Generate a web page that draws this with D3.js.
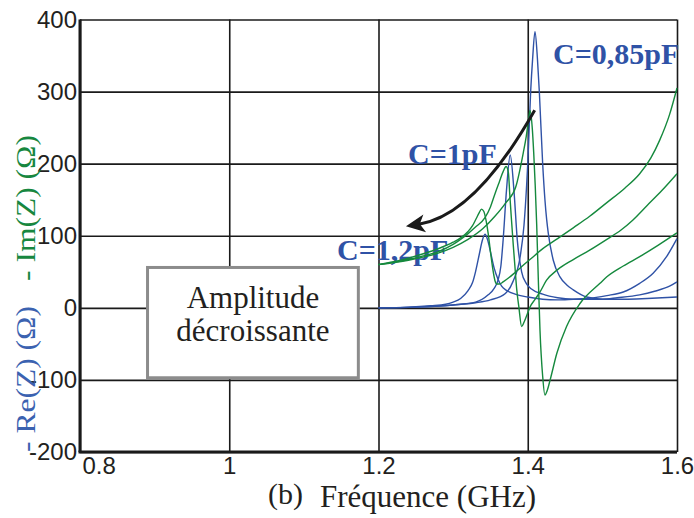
<!DOCTYPE html>
<html><head><meta charset="utf-8">
<script src="https://cdn.jsdelivr.net/npm/d3@7/dist/d3.min.js"></script>
<style>html,body{margin:0;padding:0;background:#fff;}svg{display:block;}</style>
</head><body>
<script>
// ---- data ----
const xTicks = [0.8, 1, 1.2, 1.4, 1.6];
const xTickLabels = ["0.8", "1", "1.2", "1.4", "1.6"];
const yTicks = [-200, -100, 0, 100, 200, 300, 400];
const yTickLabels = ["-200", "-100", "0", "100", "200", "300", "400"];

// -Im(Z), C = 1.2 pF
const gF12 = [1.20,1.22,1.24,1.26,1.28,1.30,1.31,1.32,1.326,1.331,1.335,1.338,1.341,1.344,1.347,1.350,1.353,1.356,1.3583,1.362,1.367,1.375,1.383,1.395,1.4097,1.4164,1.44,1.461,1.483,1.506,1.53,1.55,1.565,1.577,1.59,1.6];
const gV12 = [60,64,69,75,82,91,97,106,114,124,132,137,134,122,103,78,55,38,33,33,36,42,49,60,73,79,96,111,127,146,166,186,208,233,268,305];
// -Im(Z), C = 1 pF
const gF10 = [1.20,1.22,1.24,1.26,1.28,1.30,1.31,1.32,1.33,1.3427,1.35,1.356,1.362,1.367,1.371,1.374,1.376,1.378,1.3806,1.383,1.3851,1.388,1.3918,1.395,1.40,1.403,1.41,1.4164,1.425,1.44,1.461,1.483,1.506,1.525,1.541,1.56,1.58,1.6];
const gV10 = [60,63,67,72,78,88,95,103,112,125,140,158,175,189,196,188,156,125,87,55,27,2,-26,-20,-7,1,12,22,38,53,67,80,95,108,122,142,163,186];
// -Im(Z), C = 0.85 pF
const gF085 = [1.20,1.24,1.28,1.30,1.32,1.34,1.356,1.37,1.384,1.394,1.398,1.401,1.403,1.406,1.408,1.41,1.412,1.414,1.4164,1.42,1.423,1.426,1.43,1.439,1.452,1.47,1.4968,1.506,1.528,1.55,1.575,1.6];
const gV085 = [60,66,76,84,95,110,127,145,168,215,238,260,274,250,215,170,115,45,-31,-95,-121,-115,-100,-63,-26,6,34,43,58,71,87,104];

// Re(Z), C = 1.2 pF
const bF12 = [1.20,1.24,1.27,1.29,1.30,1.31,1.32,1.326,1.33,1.335,1.339,1.3427,1.346,1.35,1.355,1.36,1.365,1.372,1.383,1.40,1.42,1.44,1.461,1.48,1.506,1.528,1.55,1.568,1.586,1.6];
const bV12 = [0,1,3,5,8,13,24,35,50,74,93,102,95,78,55,40,30,24,19,15,12,11,12,13,17,22,34,48,71,96];
// Re(Z), C = 1 pF
const bF10 = [1.20,1.25,1.30,1.33,1.347,1.355,1.36,1.364,1.367,1.3715,1.3765,1.3815,1.386,1.3918,1.398,1.405,1.42,1.44,1.46,1.50,1.52,1.55,1.57,1.59,1.6];
const bV10 = [0,1,4,8,18,27,38,58,94,163,212,163,94,50,34,26,19,14,12,12,14,18,23,30,36];
// Re(Z), C = 0.85 pF
const bF085 = [1.20,1.25,1.30,1.33,1.35,1.37,1.38,1.39,1.395,1.3985,1.40,1.4039,1.4065,1.4097,1.413,1.4155,1.42,1.4231,1.4254,1.4276,1.4342,1.4432,1.452,1.461,1.479,1.50,1.53,1.56,1.6];
const bV085 = [0,1,4,7,11,20,36,72,115,170,200,300,345,383,345,300,200,149,122,103,66,43,32,25,15,12,12,13,15];

const capLabels = ["C=0,85pF", "C=1pF", "C=1,2pF"];
const capLabelF = [1.4338, 1.2395, 1.1444];
const capLabelV = [338, 199, 66];

// ---- drawing ----
const W = 694, H = 518;
const svg = d3.select("body").append("svg").attr("width", W).attr("height", H);
const x = d3.scaleLinear().domain([0.8, 1.6]).range([80, 677]);
const y = d3.scaleLinear().domain([-200, 400]).range([452, 19.5]);

const BLUE = "#2f52a6", GREEN = "#15893d", INK = "#231f20";
const sans = "'Liberation Sans', Arial, sans-serif";
const serif = "'Liberation Serif', 'Times New Roman', serif";

// grid + y tick labels
const yAxis = svg.append("g").attr("transform", `translate(${x(0.8)},0)`)
  .call(d3.axisLeft(y).tickValues(yTicks).tickSize(-(x(1.6) - x(0.8))).tickPadding(3)
    .tickFormat((d, i) => yTickLabels[i]));
yAxis.select(".domain").remove();
yAxis.selectAll("line").attr("stroke", "#1a1a1a").attr("stroke-width", 1.6);
yAxis.selectAll("text").style("font-family", sans).style("font-size", "24px").attr("fill", INK);

const xAxis = svg.append("g").attr("transform", `translate(0,${y(-200)})`)
  .call(d3.axisBottom(x).tickValues(xTicks).tickSize(-(y(-200) - y(400))).tickPadding(5)
    .tickFormat((d, i) => xTickLabels[i]));
xAxis.select(".domain").remove();
xAxis.selectAll("line").attr("stroke", "#1a1a1a").attr("stroke-width", 1.6);
xAxis.selectAll("text").style("font-family", sans).style("font-size", "24px").attr("fill", INK);
xAxis.selectAll(".tick").filter(d => d === 0.8).select("text")
  .attr("text-anchor", "start").attr("x", 2);

// frame
svg.append("line").attr("x1", x(0.8)).attr("x2", x(0.8)).attr("y1", y(400)).attr("y2", y(-200))
  .attr("stroke", "#1a1a1a").attr("stroke-width", 3);
svg.append("line").attr("x1", x(0.8) - 1.5).attr("x2", x(1.6)).attr("y1", y(-200)).attr("y2", y(-200))
  .attr("stroke", "#1a1a1a").attr("stroke-width", 3);

// y axis title (two colours)
svg.append("text").attr("transform", `translate(35,${y(-200)}) rotate(-90)`)
  .style("font-family", serif).style("font-size", "28px").attr("fill", "#3b62b0")
  .attr("textLength", 146).attr("lengthAdjust", "spacingAndGlyphs")
  .text("- Re(Z) (Ω)");
svg.append("text").attr("transform", `translate(35,${y(-200) - 171}) rotate(-90)`)
  .style("font-family", serif).style("font-size", "28px").attr("fill", "#17873f")
  .attr("textLength", 146).attr("lengthAdjust", "spacingAndGlyphs")
  .text("- Im(Z) (Ω)");

// x axis title
svg.append("text").attr("x", 268).attr("y", 504).style("font-family", serif)
  .style("font-size", "30px").attr("fill", INK).text("(b)");
svg.append("text").attr("x", 320).attr("y", 507).style("font-family", serif)
  .style("font-size", "31px").attr("fill", INK).text("Fréquence (GHz)");

// annotation box
const bx0 = x(0.8905), bx1 = x(1.173), by0 = y(56), by1 = y(-97);
svg.append("rect").attr("x", bx0).attr("y", by0).attr("width", bx1 - bx0).attr("height", by1 - by0)
  .attr("fill", "#fff").attr("stroke", "#8c8c8c").attr("stroke-width", 3);
const bt = svg.append("text").style("font-family", serif).style("font-size", "31px").attr("fill", INK)
  .attr("text-anchor", "middle");
bt.append("tspan").attr("x", (bx0 + bx1) / 2).attr("y", 308).text("Amplitude");
bt.append("tspan").attr("x", (bx0 + bx1) / 2).attr("y", 341).text("décroissante");

// capacitance labels
svg.selectAll("text.cap").data(capLabels).join("text").attr("class", "cap")
  .attr("x", (d, i) => x(capLabelF[i])).attr("y", (d, i) => y(capLabelV[i]))
  .style("font-family", serif).style("font-weight", "bold").style("font-size", "30px")
  .attr("fill", BLUE).text(d => d);

// curves
const line = d3.line().x(d => x(d[0])).y(d => y(d[1])).curve(d3.curveMonotoneX);
const series = [
  { f: bF12, v: bV12, c: BLUE }, { f: bF10, v: bV10, c: BLUE }, { f: bF085, v: bV085, c: BLUE },
  { f: gF12, v: gV12, c: GREEN }, { f: gF10, v: gV10, c: GREEN }, { f: gF085, v: gV085, c: GREEN }
];
series.forEach(s => {
  svg.append("path").datum(s.f.map((f, i) => [f, s.v[i]]))
    .attr("d", line).attr("fill", "none").attr("stroke", s.c).attr("stroke-width", 1.4);
});

// arrow
const a0 = [x(1.4093), y(274)], ac = [x(1.3293), y(128)], a1 = [x(1.254), y(116)];
svg.append("path").attr("d", `M${a0[0]},${a0[1]} Q${ac[0]},${ac[1]} ${a1[0]},${a1[1]}`)
  .attr("fill", "none").attr("stroke", "#1a1a1a").attr("stroke-width", 3);
const ang = Math.atan2(a1[1] - ac[1], a1[0] - ac[0]);
const tip = [a1[0] + 13 * Math.cos(ang), a1[1] + 13 * Math.sin(ang)];
const rot = (px, py) => [tip[0] + px * Math.cos(ang) - py * Math.sin(ang), tip[1] + px * Math.sin(ang) + py * Math.cos(ang)];
const hp = [rot(0, 0), rot(-19, -9), rot(-14, 0), rot(-19, 9)];
svg.append("path").attr("d", "M" + hp.map(p => p.join(",")).join("L") + "Z").attr("fill", "#1a1a1a");
</script>
</body></html>
